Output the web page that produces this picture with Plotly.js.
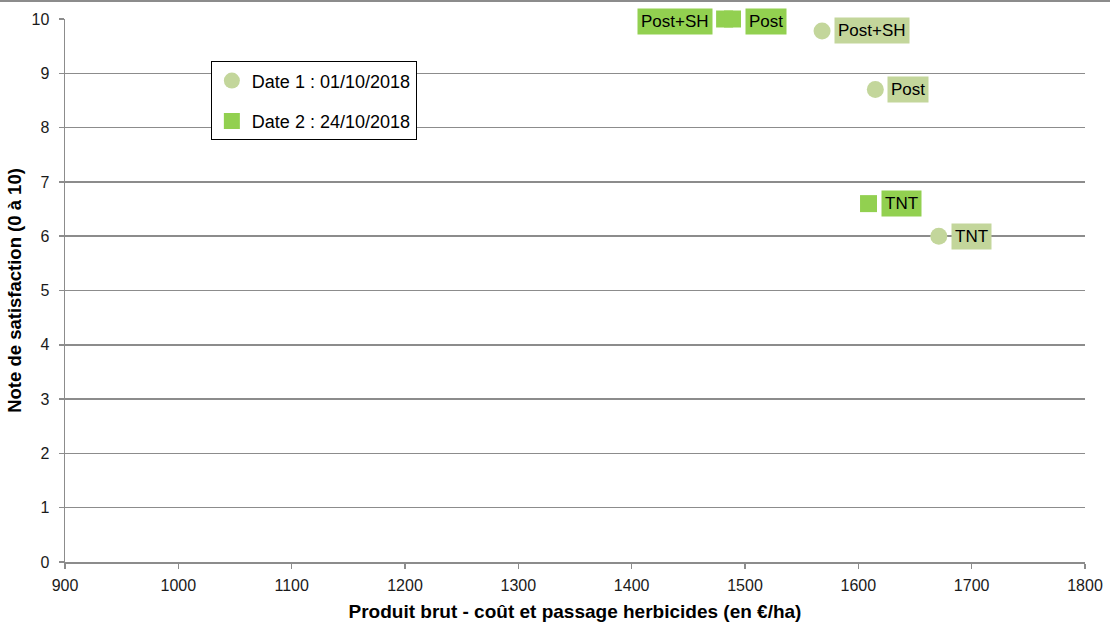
<!DOCTYPE html>
<html>
<head>
<meta charset="utf-8">
<script src="https://cdn.plot.ly/plotly-3.0.1.min.js"></script>
<style>
  html, body { margin: 0; padding: 0; background: #fff; }
  #chart { width: 1110px; height: 623px; box-sizing: border-box; border-top: 2px solid #8c8c8c; }
</style>
</head>
<body>
<div id="chart"></div>
<script>
// Satisfaction score vs. gross product net of herbicide cost, per treatment
const labels1 = ['Post+SH', 'Post', 'TNT'];
const x1 = [1568, 1615, 1671];
const y1 = [9.78, 8.7, 6.0];

const labels2 = ['Post+SH', 'Post', 'TNT'];
const x2 = [1482, 1489, 1609];
const y2 = [10.0, 10.0, 6.6];
// Label side per point of series 2 (left for the first to avoid overlap)
const side2 = ['left', 'right', 'right'];

const name1 = 'Date 1 : 01/10/2018';
const name2 = 'Date 2 : 24/10/2018';

const col1 = '#c3d69b';
const col2 = '#92d050';
const font = 'Liberation Sans, Arial, sans-serif';

const traces = [
  {
    type: 'scatter', mode: 'markers', name: name1, x: x1, y: y1, legendgroup: 'd1',
    marker: { symbol: 'circle', size: 17, color: col1 }, cliponaxis: false
  },
  {
    type: 'scatter', mode: 'markers', name: name2, x: x2, y: y2, legendgroup: 'd2',
    marker: { symbol: 'square', size: 17, color: col2 }, cliponaxis: false
  }
];

const labelFont = { family: font, size: 17, color: '#000' };
const annotations = [];
labels1.forEach((t, i) => annotations.push({
  x: x1[i], y: y1[i], xref: 'x', yref: 'y', text: t, showarrow: false,
  xanchor: 'left', xshift: 12, bgcolor: col1, borderpad: 3,
  font: labelFont
}));
labels2.forEach((t, i) => annotations.push({
  x: x2[i], y: y2[i], xref: 'x', yref: 'y', text: t, showarrow: false,
  xanchor: side2[i] === 'left' ? 'right' : 'left',
  xshift: side2[i] === 'left' ? -12 : 12, yshift: i < 2 ? -2 : 0,
  bgcolor: col2, borderpad: 3,
  font: labelFont
}));

const layout = {
  width: 1110, height: 621,
  margin: { l: 65, r: 25, t: 17, b: 61 },
  paper_bgcolor: '#fff', plot_bgcolor: '#fff',
  font: { family: font, size: 16, color: '#1a1a1a' },
  showlegend: true,
  legend: {
    x: 0.143, y: 0.922, xanchor: 'left', yanchor: 'top',
    bgcolor: '#fff', bordercolor: '#000', borderwidth: 1,
    font: { family: font, size: 18, color: '#000' },
    itemwidth: 30, tracegroupgap: 14
  },
  xaxis: {
    range: [900, 1800], tickvals: [900,1000,1100,1200,1300,1400,1500,1600,1700,1800],
    showgrid: false, zeroline: false, showline: true, linecolor: '#8c8c8c', linewidth: 1.5,
    ticks: 'outside', ticklen: 5, tickcolor: '#8c8c8c', tickwidth: 1.5,
    ticklabelstandoff: 3,
    tickfont: { family: font, size: 16, color: '#1a1a1a' },
    title: { text: 'Produit brut - coût et passage herbicides (en €/ha)', standoff: 12,
      font: { family: font, size: 19, color: '#000', weight: 'bold' } }
  },
  yaxis: {
    range: [0, 10], dtick: 1,
    showgrid: true, gridcolor: '#8c8c8c', gridwidth: 1.5,
    zeroline: false, showline: true, linecolor: '#8c8c8c', linewidth: 1.5,
    ticks: 'outside', ticklen: 5, tickcolor: '#8c8c8c', tickwidth: 1.5,
    ticklabelstandoff: 6,
    tickfont: { family: font, size: 16, color: '#1a1a1a' },
    title: { text: 'Note de satisfaction (0 à 10)', standoff: 5,
      font: { family: font, size: 18.5, color: '#000', weight: 'bold' } }
  },
  annotations: annotations
};

Plotly.newPlot('chart', traces, layout, { displayModeBar: false, staticPlot: true });
</script>
</body>
</html>
